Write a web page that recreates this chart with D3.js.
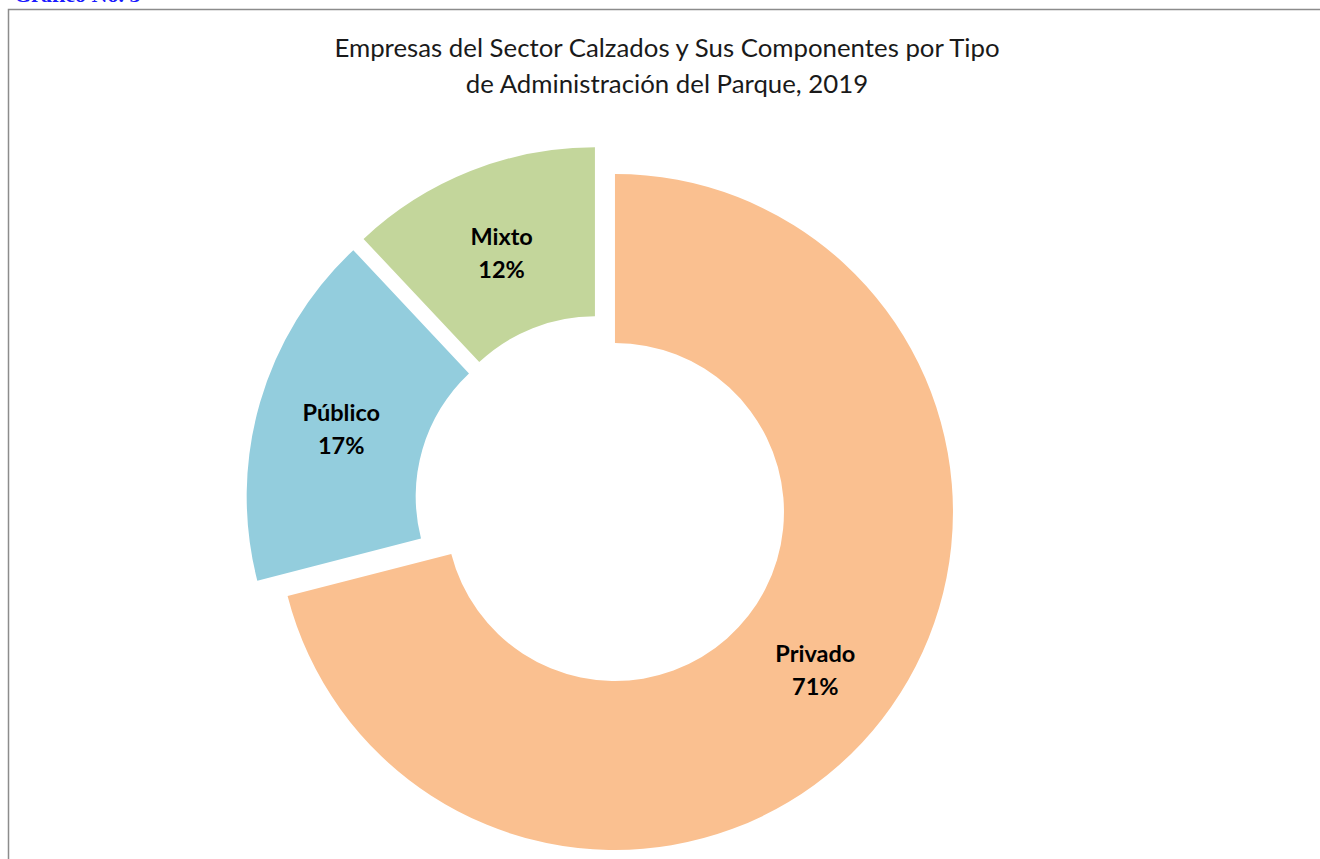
<!DOCTYPE html>
<html>
<head>
<meta charset="utf-8">
<script src="https://cdn.jsdelivr.net/npm/d3@7"></script>
<style>
  html, body { margin: 0; padding: 0; background: #fff; }
  svg { display: block; }
</style>
</head>
<body>
<svg id="chart" width="1320" height="859"></svg>
<script>
const categories = ["Privado", "Público", "Mixto"];
const values = [71, 17, 12];
const titleLines = ["Empresas del Sector Calzados y Sus Componentes por Tipo", "de Administración del Parque, 2019"];
const heading = "Gráfico No. 3";

const W = 1320, H = 859;
const svg = d3.select("#chart");

// chart frame
svg.append("rect")
  .attr("x", 8.5).attr("y", 9.5)
  .attr("width", W + 20).attr("height", H + 20)
  .attr("fill", "#fff")
  .attr("stroke", "#8c8c8c").attr("stroke-width", 1.5);

// heading (cut off at top, as in the source page)
svg.append("text")
  .attr("x", 14).attr("y", 2)
  .attr("font-family", "'Liberation Serif', 'DejaVu Serif', serif")
  .attr("font-weight", "bold")
  .attr("font-size", 22)
  .attr("fill", "#1a1aff")
  .text(heading);

// title
const title = svg.append("text")
  .attr("text-anchor", "middle")
  .attr("font-family", "Lato, 'Open Sans', sans-serif")
  .attr("font-size", 25.8)
  .attr("fill", "#1a1a1a");
titleLines.forEach((t, i) => {
  title.append("tspan").attr("x", 667).attr("y", 57 + i * 36).text(t);
});

const color = d3.scaleOrdinal().domain(categories).range(["#FAC090", "#93CDDD", "#C3D69B"]);

const data = categories.map((c, i) => ({ name: c, value: values[i] }));
const pie = d3.pie().sort(null).value(d => d.value).startAngle(0).endAngle(2 * Math.PI);
const R = 338, r = 169, explode = 17.3;
const arc = d3.arc().innerRadius(r).outerRadius(R);
const cx = 601.3, cy = 501.4;

const g = svg.append("g").attr("transform", `translate(${cx},${cy})`);
const slices = g.selectAll("g.slice").data(pie(data)).join("g")
  .attr("class", "slice")
  .attr("transform", d => {
    const a = (d.startAngle + d.endAngle) / 2;
    return `translate(${explode * Math.sin(a)},${-explode * Math.cos(a)})`;
  });

slices.append("path")
  .attr("d", arc)
  .attr("fill", d => color(d.data.name));

const lab = slices.append("text")
  .attr("transform", d => `translate(${arc.centroid(d)})`)
  .attr("text-anchor", "middle")
  .attr("font-family", "Lato, 'Open Sans', sans-serif")
  .attr("font-weight", "bold")
  .attr("font-size", 23.5)
  .attr("fill", "#000");
lab.append("tspan").attr("x", 0).attr("y", -5).text(d => d.data.name);
lab.append("tspan").attr("x", 0).attr("y", 28).text(d => Math.round(d.data.value) + "%");
</script>
</body>
</html>
